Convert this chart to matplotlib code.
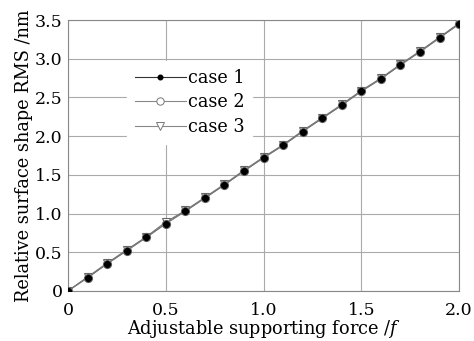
import numpy as np
import matplotlib.pyplot as plt

plt.rcParams['font.family'] = ['DejaVu Serif']
plt.rcParams['mathtext.fontset'] = 'dejavuserif'

force = [0, 0.1, 0.2, 0.3, 0.4, 0.5, 0.6, 0.7, 0.8, 0.9, 1.0,
         1.1, 1.2, 1.3, 1.4, 1.5, 1.6, 1.7, 1.8, 1.9, 2.0]
case1 = [0, 0.17, 0.35, 0.52, 0.69, 0.87, 1.03, 1.20, 1.37, 1.55, 1.72,
         1.88, 2.06, 2.23, 2.40, 2.58, 2.74, 2.92, 3.09, 3.27, 3.45]
case2 = [0, 0.17, 0.35, 0.52, 0.69, 0.87, 1.03, 1.20, 1.37, 1.55, 1.72,
         1.88, 2.06, 2.23, 2.40, 2.58, 2.74, 2.92, 3.09, 3.27, 3.45]
case3 = [0, 0.18, 0.36, 0.53, 0.70, 0.89, 1.04, 1.21, 1.38, 1.56, 1.73,
         1.89, 2.07, 2.24, 2.41, 2.59, 2.75, 2.93, 3.10, 3.28, 3.46]
xticks = [0, 0.5, 1.0, 1.5, 2.0]
xlabels = ['0', '0.5', '1.0', '1.5', '2.0']
yticks = [0, 0.5, 1.0, 1.5, 2.0, 2.5, 3.0, 3.5]
ylabels = ['0', '0.5', '1.0', '1.5', '2.0', '2.5', '3.0', '3.5']

fig = plt.figure(figsize=(4.74, 3.41), dpi=100)
ax = fig.add_axes([0.1435, 0.147, 0.825, 0.794])

ax.plot(force, case3, color='#777777', lw=0.8, marker='v', ms=6.3,
        mfc='white', mec='#666666', mew=0.8, zorder=3)
ax.plot(force, case2, color='#777777', lw=0.8, marker='o', ms=5.8,
        mfc='white', mec='#666666', mew=0.8, zorder=4)
ax.plot(force, case1, color='#777777', lw=0.8, marker='o', ms=4.3,
        mfc='black', mec='black', zorder=5)

ax.set_xlim(0, 2.0)
ax.set_ylim(0, 3.5)
ax.set_xticks(xticks)
ax.set_xticklabels(xlabels)
ax.set_yticks(yticks)
ax.set_yticklabels(ylabels)
ax.tick_params(length=0, labelsize=12.5)
ax.tick_params(axis='x', pad=8)
ax.tick_params(axis='y', pad=4)
ax.grid(True, color='#aaaaaa', lw=0.8)
for s in ax.spines.values():
    s.set_color('#888888')
    s.set_linewidth(0.8)

ax.set_xlabel('Adjustable supporting force /$f$', fontsize=12.8, labelpad=-1)
ax.set_ylabel('Relative surface shape RMS /nm', fontsize=12.8, labelpad=1)

h1 = ax.plot([], [], color='#333333', lw=0.8, marker='o', ms=3.3, mfc='black', mec='black')[0]
h2 = ax.plot([], [], color='#888888', lw=0.8, marker='o', ms=5.3, mfc='white', mec='#777777', mew=0.7)[0]
h3 = ax.plot([], [], color='#888888', lw=0.8, marker='v', ms=6, mfc='white', mec='#777777', mew=0.7)[0]
leg = ax.legend([h1, h2, h3], ['case 1', 'case 2', 'case 3'], loc='upper left',
                bbox_to_anchor=(0.128, 0.881), frameon=True, fontsize=12.7,
                handlelength=2.9, handletextpad=0.1, labelspacing=0.36,
                borderpad=0.45)
leg.get_frame().set_edgecolor('white')
leg.get_frame().set_facecolor('white')
leg.get_frame().set_alpha(1)

fig.savefig('out.png', dpi=100)
